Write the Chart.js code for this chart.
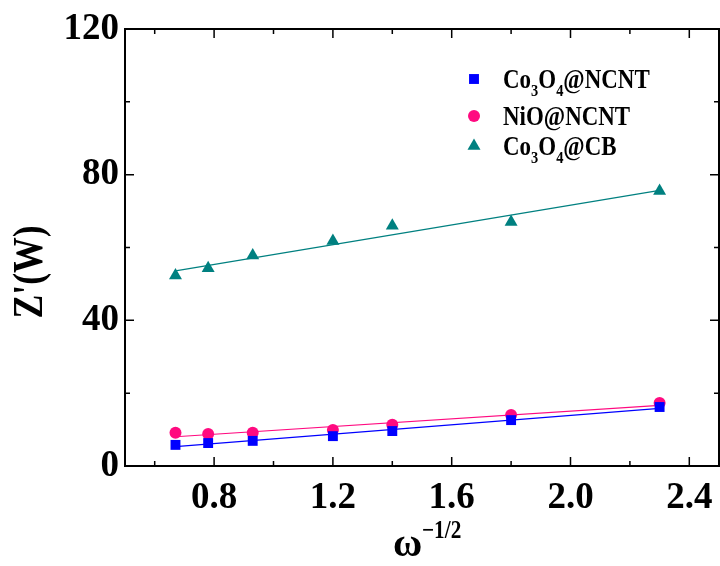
<!DOCTYPE html>
<html lang="en">
<head>
    <meta charset="UTF-8">
    <title>Z' vs omega^-1/2</title>
    <script src="https://cdn.jsdelivr.net/npm/chart.js"></script>
    <style>
        html, body {
            margin: 0;
            padding: 0;
            background: #fff;
        }

        canvas {
            display: block;
        }
    </style>
</head>
<body>
<canvas id="zChart" width="720" height="566"></canvas>

<script>
    // data
    const xVals = [0.67, 0.78, 0.93, 1.2, 1.4, 1.8, 2.3];
    const ncntVals = [5.8, 6.3, 6.9, 8.2, 9.6, 12.6, 16.2];
    const nioVals = [9.1, 8.8, 9.1, 9.9, 11.3, 14.0, 17.3];
    const cbVals = [52.3, 54.3, 57.8, 61.8, 66.0, 67.0, 75.5];

    const xTicks = [0.8, 1.2, 1.6, 2.0, 2.4];
    const xMinor = [0.6, 1.0, 1.4, 1.8, 2.2];
    const yTicks = [0, 40, 80, 120];
    const yMinor = [20, 60, 100];

    const blue = '#0000ff';
    const pink = '#ff0a80';
    const teal = '#008080';
    const serif = '"Liberation Serif", "Times New Roman", serif';

    // legend labels, split in [text, isSubscript] parts
    const legendParts = [
        [['Co', 0], ['3', 1], ['O', 0], ['4', 1], ['@NCNT', 0]],
        [['NiO@NCNT', 0]],
        [['Co', 0], ['3', 1], ['O', 0], ['4', 1], ['@CB', 0]]
    ];

    const pts = ys => xVals.map((x, i) => ({x: x, y: ys[i]}));

    // least squares line between first and last x
    function fitLine(ys) {
        const n = xVals.length;
        const mx = xVals.reduce((a, b) => a + b, 0) / n;
        const my = ys.reduce((a, b) => a + b, 0) / n;
        let sxy = 0, sxx = 0;
        xVals.forEach((x, i) => {
            sxy += (x - mx) * (ys[i] - my);
            sxx += (x - mx) * (x - mx);
        });
        const k = sxy / sxx;
        const x0 = xVals[0], x1 = xVals[n - 1];
        return [{x: x0, y: my + k * (x0 - mx)}, {x: x1, y: my + k * (x1 - mx)}];
    }

    function drawParts(ctx, parts, x, y, size, squeeze) {
        ctx.save();
        ctx.translate(x, y);
        ctx.scale(squeeze, 1);
        let cx = 0;
        parts.forEach(p => {
            const sub = p[1] === 1;
            ctx.font = 'bold ' + (sub ? Math.round(size * 0.62) : size) + 'px ' + serif;
            ctx.fillText(p[0], cx, sub ? size * 0.3 : 0);
            cx += ctx.measureText(p[0]).width;
        });
        ctx.restore();
    }

    const decorPlugin = {
        id: 'decor',
        afterDatasetsDraw(chart) {
            const ctx = chart.ctx;
            const a = chart.chartArea;
            const sx = chart.scales.x, sy = chart.scales.y;

            ctx.save();
            ctx.strokeStyle = '#000';
            ctx.lineWidth = 2;
            ctx.strokeRect(a.left, a.top, a.right - a.left, a.bottom - a.top);

            // inward ticks on all four sides
            ctx.lineWidth = 1.5;
            ctx.beginPath();
            const tx = (v, len) => {
                const p = sx.getPixelForValue(v);
                ctx.moveTo(p, a.bottom); ctx.lineTo(p, a.bottom - len);
                ctx.moveTo(p, a.top); ctx.lineTo(p, a.top + len);
            };
            const ty = (v, len) => {
                const p = sy.getPixelForValue(v);
                ctx.moveTo(a.left, p); ctx.lineTo(a.left + len, p);
                ctx.moveTo(a.right, p); ctx.lineTo(a.right - len, p);
            };
            xTicks.forEach(v => tx(v, 9));
            xMinor.forEach(v => tx(v, 5));
            yTicks.forEach(v => ty(v, 9));
            yMinor.forEach(v => ty(v, 5));
            ctx.stroke();

            // legend
            const colors = [blue, pink, teal];
            const styles = ['rect', 'circle', 'triangle'];
            const radii = [7, 6, 7.5];
            const rows = [79, 116, 146];
            rows.forEach((ry, i) => {
                ctx.fillStyle = colors[i];
                ctx.strokeStyle = colors[i];
                Chart.helpers.drawPoint(ctx, {
                    pointStyle: styles[i], radius: radii[i], rotation: 0, borderWidth: 0
                }, 474, ry);
                ctx.fillStyle = '#000';
                ctx.textBaseline = 'alphabetic';
                drawParts(ctx, legendParts[i], 503, ry + 9, 27, 0.85);
            });

            // axis titles
            ctx.fillStyle = '#000';
            ctx.save();
            ctx.translate(42, 272);
            ctx.rotate(-Math.PI / 2);
            ctx.scale(0.85, 1);
            ctx.font = 'bold 42px ' + serif;
            ctx.textAlign = 'center';
            ctx.fillText("Z'(W)", 0, 0);
            ctx.restore();

            ctx.textAlign = 'left';
            ctx.font = 'bold 40px ' + serif;
            ctx.fillText('\u03c9', 393, 556);
            ctx.font = 'bold 25px ' + serif;
            ctx.save();
            ctx.translate(422, 538);
            ctx.scale(0.85, 1);
            ctx.fillText('\u22121/2', 0, 0);
            ctx.restore();
            ctx.restore();
        }
    };

    const tickFont = {family: serif, size: 37, weight: 'bold'};

    new Chart(document.getElementById('zChart'), {
        type: 'scatter',
        data: {
            datasets: [
                {
                    label: 'Co3O4@NCNT', data: pts(ncntVals), pointStyle: 'rect',
                    pointRadius: 7, backgroundColor: blue, borderWidth: 0
                },
                {
                    label: 'NiO@NCNT', data: pts(nioVals), pointStyle: 'circle',
                    pointRadius: 6, backgroundColor: pink, borderWidth: 0
                },
                {
                    label: 'Co3O4@CB', data: pts(cbVals), pointStyle: 'triangle',
                    pointRadius: 7.5, backgroundColor: teal, borderWidth: 0
                },
                {
                    label: 'fit1', data: fitLine(ncntVals), showLine: true,
                    pointRadius: 0, borderColor: blue, borderWidth: 1.2
                },
                {
                    label: 'fit2', data: fitLine(nioVals), showLine: true,
                    pointRadius: 0, borderColor: pink, borderWidth: 1.2
                },
                {
                    label: 'fit3', data: fitLine(cbVals), showLine: true,
                    pointRadius: 0, borderColor: teal, borderWidth: 1.2
                }
            ]
        },
        options: {
            responsive: false,
            animation: false,
            events: [],
            layout: {
                autoPadding: false,
                padding: {top: 29, right: 1, left: 0, bottom: 0}
            },
            plugins: {
                legend: {display: false},
                tooltip: {enabled: false}
            },
            scales: {
                x: {
                    type: 'linear',
                    min: 0.5,
                    max: 2.5,
                    afterBuildTicks: s => { s.ticks = xTicks.map(v => ({value: v})); },
                    afterFit: s => {
                        s.height = 100;
                        s.paddingLeft = 0;
                        s.paddingRight = 0;
                    },
                    grid: {drawOnChartArea: false, drawTicks: false},
                    border: {display: false},
                    ticks: {
                        font: tickFont, color: '#000', padding: 10, maxRotation: 0,
                        callback: v => v.toFixed(1)
                    }
                },
                y: {
                    type: 'linear',
                    min: 0,
                    max: 120,
                    afterBuildTicks: s => { s.ticks = yTicks.map(v => ({value: v})); },
                    afterFit: s => {
                        s.width = 125;
                        s.paddingTop = 0;
                        s.paddingBottom = 0;
                    },
                    grid: {drawOnChartArea: false, drawTicks: false},
                    border: {display: false},
                    ticks: {font: tickFont, color: '#000', padding: 6}
                }
            }
        },
        plugins: [decorPlugin]
    });
</script>
</body>
</html>
